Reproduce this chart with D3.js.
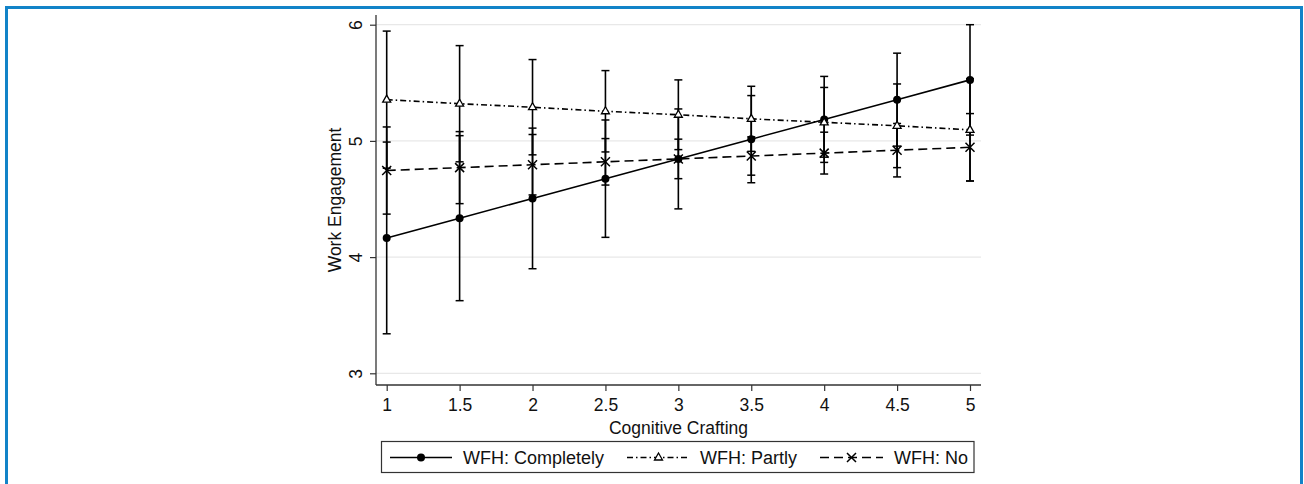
<!DOCTYPE html>
<html>
<head>
<meta charset="utf-8">
<script src="https://cdn.jsdelivr.net/npm/d3@7"></script>
<style>
  body { margin: 0; background: #fff; }
  svg { display: block; font-family: "Liberation Sans", Arial, sans-serif; }
</style>
</head>
<body>
<div class="chart"></div>
<script>
// cognitive crafting levels
const crafting = [1, 1.5, 2, 2.5, 3, 3.5, 4, 4.5, 5];

// predicted work engagement per group
const completely = [4.165, 4.335, 4.505, 4.675, 4.845, 5.015, 5.185, 5.355, 5.525];
const partly = [5.355, 5.32, 5.29, 5.255, 5.225, 5.19, 5.16, 5.13, 5.095];
const no = [4.745, 4.77, 4.795, 4.82, 4.845, 4.87, 4.895, 4.92, 4.945];

// half widths of the confidence intervals
const completelyCI = [0.825, 0.71, 0.605, 0.505, 0.43, 0.375, 0.37, 0.40, 0.475];
const partlyCI = [0.59, 0.50, 0.41, 0.35, 0.30, 0.28, 0.30, 0.36, 0.44];
const noCI = [0.375, 0.31, 0.26, 0.20, 0.17, 0.165, 0.18, 0.23, 0.29];

const xTicks = [1, 1.5, 2, 2.5, 3, 3.5, 4, 4.5, 5];
const yTicks = [3, 4, 5, 6];

const legendLabels = ['WFH: Completely', 'WFH: Partly', 'WFH: No'];

const width = 1304;
const height = 484;
const fontSize = '17.5px';

const svg = d3.select('.chart')
	.append('svg')
	.attr('width', width)
	.attr('height', height);

// blue frame, no bottom edge
svg.append('path')
	.attr('d', 'M6.5,484 V7.5 H1301.5 V484')
	.attr('fill', 'none')
	.attr('stroke', '#1283c8')
	.attr('stroke-width', 3);

const x = d3.scaleLinear().domain([1, 5]).range([386.7, 970]);
const y = d3.scaleLinear().domain([3, 6]).range([373.3, 24.7]);

const plotLeft = 376, plotRight = 981, plotTop = 15, plotBottom = 385;

// gridlines
svg.selectAll('.grid')
	.data(yTicks)
	.enter()
	.append('line')
	.attr('x1', plotLeft)
	.attr('x2', plotRight)
	.attr('y1', d => y(d))
	.attr('y2', d => y(d))
	.attr('stroke', '#e8e8e8')
	.attr('stroke-width', 1.2);

// y axis
const yAxis = svg.append('g')
	.attr('transform', `translate(${plotLeft},0)`)
	.call(d3.axisLeft(y).tickValues(yTicks).tickSize(6).tickFormat(d3.format('d')));
yAxis.select('.domain').attr('d', `M0,${plotTop}V${plotBottom}`).attr('stroke', '#333').attr('stroke-width', 1.3);
yAxis.selectAll('.tick line').attr('stroke', '#333').attr('stroke-width', 1.2);
yAxis.selectAll('.tick text')
	.attr('x', 0)
	.attr('dy', 0)
	.attr('transform', 'translate(-14,0) rotate(-90)')
	.attr('text-anchor', 'middle')
	.style('font-size', fontSize)
	.style('font-family', '"Liberation Sans", Arial, sans-serif')
	.attr('fill', '#111');

// x axis
const xAxis = svg.append('g')
	.attr('transform', `translate(0,${plotBottom})`)
	.call(d3.axisBottom(x).tickValues(xTicks).tickSize(6).tickFormat(d => d));
xAxis.select('.domain').attr('d', `M${plotLeft},0H${plotRight}`).attr('stroke', '#333').attr('stroke-width', 1.3);
xAxis.selectAll('.tick line').attr('stroke', '#333').attr('stroke-width', 1.2);
xAxis.selectAll('.tick text')
	.attr('y', 14)
	.attr('dy', '0.71em')
	.style('font-size', fontSize)
	.style('font-family', '"Liberation Sans", Arial, sans-serif')
	.attr('fill', '#111');

// axis titles
svg.append('text')
	.attr('x', (plotLeft + plotRight) / 2)
	.attr('y', 434)
	.attr('text-anchor', 'middle')
	.style('font-size', fontSize)
	.attr('fill', '#111')
	.text('Cognitive Crafting');

svg.append('text')
	.attr('transform', `translate(341,${(plotTop + plotBottom) / 2}) rotate(-90)`)
	.attr('text-anchor', 'middle')
	.style('font-size', fontSize)
	.attr('fill', '#111')
	.text('Work Engagement');

const series = [
	{ values: completely, ci: completelyCI, dash: null, marker: 'dot' },
	{ values: partly, ci: partlyCI, dash: '6,3,1.5,3', marker: 'tri' },
	{ values: no, ci: noCI, dash: '9,5', marker: 'x' }
];

// error bars
series.forEach(s => {
	const g = svg.append('g');
	const rows = crafting.map((c, i) => ({ c: c, lo: s.values[i] - s.ci[i], hi: s.values[i] + s.ci[i] }));
	g.selectAll('line.v')
		.data(rows)
		.enter()
		.append('line')
		.attr('x1', d => x(d.c))
		.attr('x2', d => x(d.c))
		.attr('y1', d => y(d.lo))
		.attr('y2', d => y(d.hi))
		.attr('stroke', '#000')
		.attr('stroke-width', 1.6);
	['lo', 'hi'].forEach(k => {
		g.selectAll('line.' + k)
			.data(rows)
			.enter()
			.append('line')
			.attr('x1', d => x(d.c) - 4)
			.attr('x2', d => x(d.c) + 4)
			.attr('y1', d => y(d[k]))
			.attr('y2', d => y(d[k]))
			.attr('stroke', '#000')
			.attr('stroke-width', 1.5);
	});
});

function drawMarker(g, type, cx, cy) {
	if (type === 'dot') {
		g.append('circle').attr('cx', cx).attr('cy', cy).attr('r', 4).attr('fill', '#000');
	} else if (type === 'tri') {
		g.append('path')
			.attr('d', `M${cx},${cy - 4.5}L${cx + 4},${cy + 2.5}L${cx - 4},${cy + 2.5}Z`)
			.attr('fill', '#fff')
			.attr('stroke', '#000')
			.attr('stroke-width', 1.3);
	} else {
		g.append('path')
			.attr('d', `M${cx - 4.5},${cy - 4.5}L${cx + 4.5},${cy + 4.5}M${cx - 4.5},${cy + 4.5}L${cx + 4.5},${cy - 4.5}`)
			.attr('stroke', '#000')
			.attr('stroke-width', 1.5);
	}
}

const line = d3.line().x((d, i) => x(crafting[i])).y(d => y(d));

series.forEach(s => {
	svg.append('path')
		.datum(s.values)
		.attr('d', line)
		.attr('fill', 'none')
		.attr('stroke', '#000')
		.attr('stroke-width', 1.6)
		.attr('stroke-dasharray', s.dash);
	const g = svg.append('g');
	s.values.forEach((v, i) => drawMarker(g, s.marker, x(crafting[i]), y(v)));
});

// legend
svg.append('rect')
	.attr('x', 381.5)
	.attr('y', 441.5)
	.attr('width', 592.5)
	.attr('height', 31)
	.attr('fill', '#fff')
	.attr('stroke', '#333')
	.attr('stroke-width', 1.2);

const legendPos = [
	{ x1: 390, x2: 452, tx: 463 },
	{ x1: 627, x2: 690, tx: 700 },
	{ x1: 820, x2: 883, tx: 894 }
];
const ly = 457.5;
series.forEach((s, i) => {
	const p = legendPos[i];
	svg.append('line')
		.attr('x1', p.x1)
		.attr('x2', p.x2)
		.attr('y1', ly)
		.attr('y2', ly)
		.attr('stroke', '#000')
		.attr('stroke-width', 1.6)
		.attr('stroke-dasharray', s.dash);
	drawMarker(svg.append('g'), s.marker, (p.x1 + p.x2) / 2, ly);
	svg.append('text')
		.attr('x', p.tx)
		.attr('y', ly + 6.5)
		.style('font-size', '18px')
		.attr('fill', '#111')
		.text(legendLabels[i]);
});
</script>
</body>
</html>
